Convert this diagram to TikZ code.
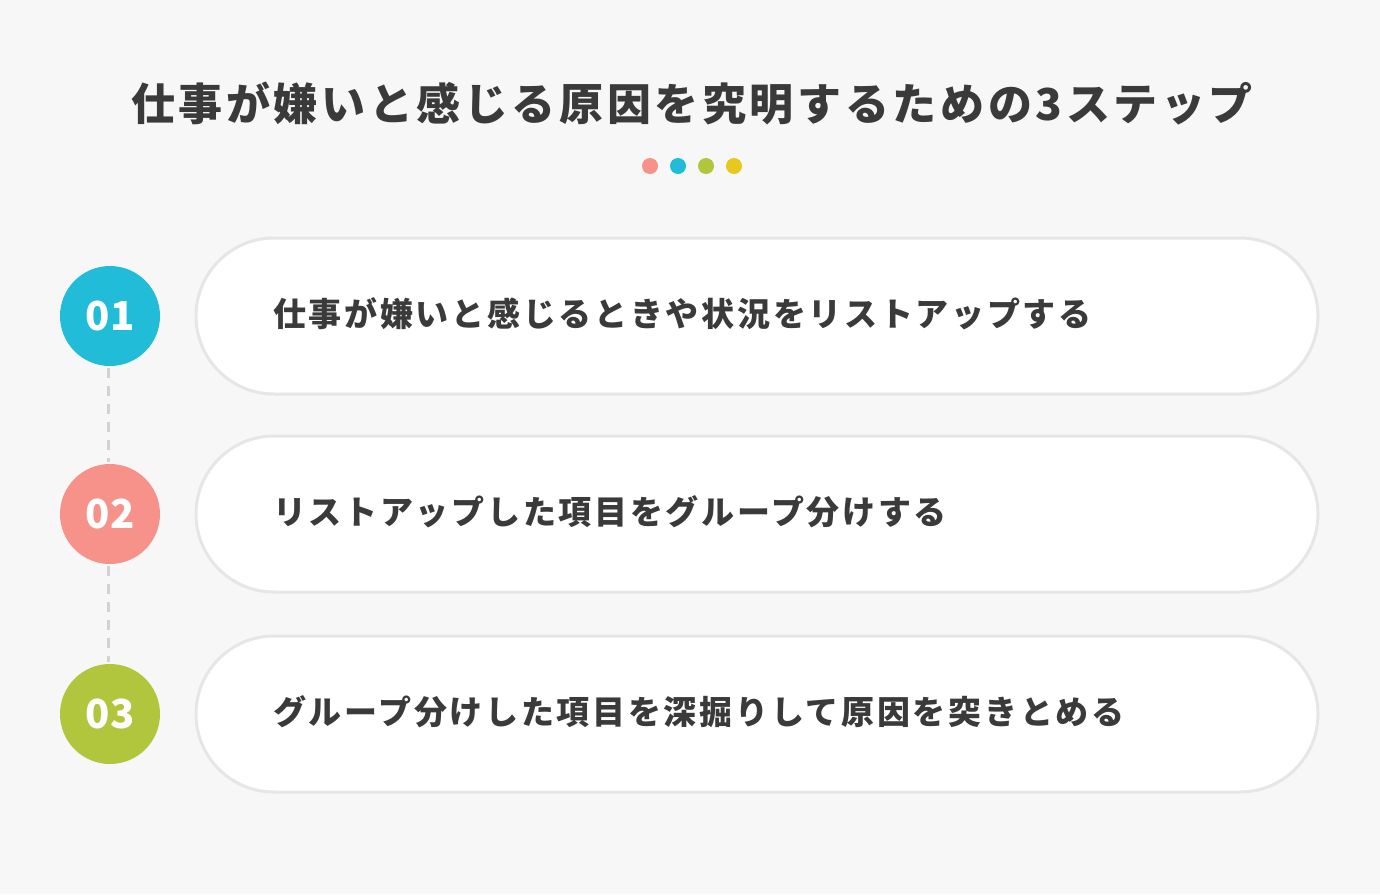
\documentclass[tikz,border=0pt]{standalone}
\usepackage{fontspec}
\setmainfont{Noto Sans CJK JP}
\usetikzlibrary{calc}
\definecolor{bg}{HTML}{F7F7F7}
\definecolor{txt}{HTML}{3A3A3A}
\definecolor{cA}{HTML}{20BCD8}
\definecolor{cB}{HTML}{F6928A}
\definecolor{cC}{HTML}{B1C63C}
\definecolor{cD}{HTML}{E8C81C}
\definecolor{pillline}{HTML}{E6E6E6}
\definecolor{dashc}{HTML}{D2D2D2}
\tikzset{
  numcirc/.style={circle, minimum size=100pt, inner sep=0pt, text=white, font=\fontsize{40}{40}\selectfont\bfseries},
  pill/.style={draw=pillline, line width=3pt, fill=white, rounded corners=78pt},
  pilltext/.style={anchor=west, text=txt, inner sep=0pt, font=\fontsize{33}{33}\selectfont\bfseries\addfontfeatures{LetterSpace=8.2}},
  dot/.style={circle, minimum size=16pt, inner sep=0pt},
  conn/.style={draw=dashc, line width=3pt, dash pattern=on 10pt off 8pt},
}
\begin{document}
\begin{tikzpicture}[x=1pt,y=-1pt]
\fill[bg] (0,0) rectangle (1380,894);
\useasboundingbox (0,0) rectangle (1380,894);
\node[text=txt, inner sep=0pt, font=\fontsize{44}{44}\selectfont\bfseries\addfontfeatures{LetterSpace=8.2}] (title) at (692,103) {仕事が嫌いと感じる原因を究明するための3ステップ};
\node[dot, fill=cB] (d1) at (650,166) {};
\node[dot, fill=cA] (d2) at (678,166) {};
\node[dot, fill=cC] (d3) at (706,166) {};
\node[dot, fill=cD] (d4) at (734,166) {};
% pills
\draw[pill] (196,238) rectangle (1318,394);
\draw[pill] (196,436) rectangle (1318,592);
\draw[pill] (196,636) rectangle (1318,792);
\node[pilltext] (t1) at (273,314) {仕事が嫌いと感じるときや状況をリストアップする};
\node[pilltext] (t2) at (273,512) {リストアップした項目をグループ分けする};
\node[pilltext] (t3) at (273,712) {グループ分けした項目を深掘りして原因を突きとめる};
% circles
\node[numcirc, fill=cA] (n1) at (110,316) {01};
\node[numcirc, fill=cB] (n2) at (110,514) {02};
\node[numcirc, fill=cC] (n3) at (110,714) {03};
\draw[conn] ($(n1.south)+(-2,2)$) -- ($(n2.north)+(-2,-2)$);
\draw[conn] ($(n2.south)+(-2,2)$) -- ($(n3.north)+(-2,-2)$);
\end{tikzpicture}
\end{document}
